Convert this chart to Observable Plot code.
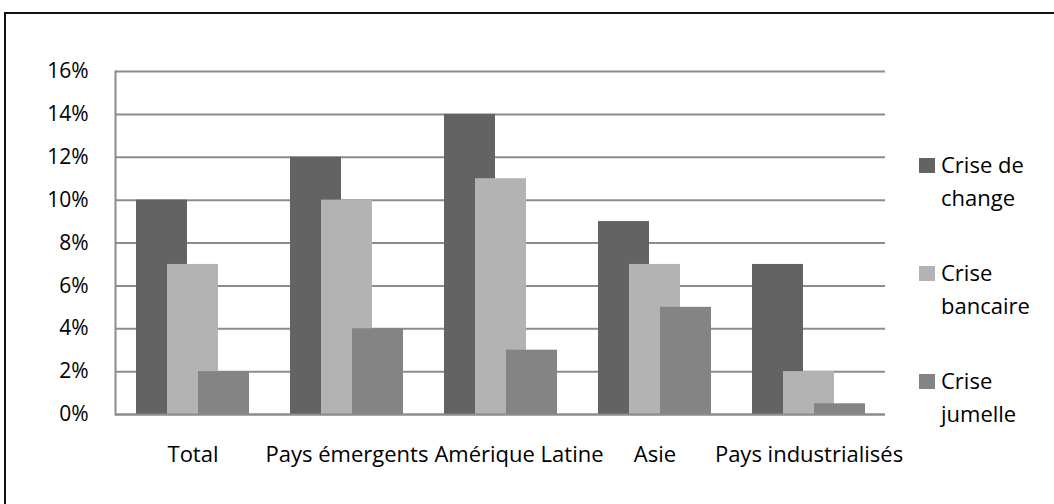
<!DOCTYPE html>
<html><head><meta charset="utf-8">
<script src="https://cdn.jsdelivr.net/npm/d3@7"></script>
<script src="https://cdn.jsdelivr.net/npm/@observablehq/plot@0.6"></script>
<style>
body{margin:0;background:#fff;font-family:"Open Sans",sans-serif;}
#frame{position:absolute;left:4px;top:12px;width:1120px;height:620px;border:2.5px solid #111;box-sizing:border-box;}
#chart{position:absolute;left:0;top:0;}
.leg{position:absolute;left:920px;font-size:22px;line-height:33px;color:#000;}
.sw{position:absolute;left:-1px;width:16px;height:15px;}
.lt{position:absolute;left:21px;white-space:nowrap;}
</style></head>
<body>
<div id="frame"></div>
<div id="chart"></div>
<div id="legend"></div>
<script>
const categories = ["Total", "Pays émergents", "Amérique Latine", "Asie", "Pays industrialisés"];
const seriesNames = ["Crise de change", "Crise bancaire", "Crise jumelle"];
const criseChange = [10, 12, 14, 9, 7];
const criseBancaire = [7, 10, 11, 7, 2];
const criseJumelle = [2, 4, 3, 5, 0.5];
const colors = ["#636363", "#b3b3b3", "#848484"];
const yTicks = [0, 2, 4, 6, 8, 10, 12, 14, 16];
const legendLines = [["Crise de", "change"], ["Crise", "bancaire"], ["Crise", "jumelle"]];

const series = [criseChange, criseBancaire, criseJumelle];
const offsets = [-31, 0, 31];
const marks = [
  Plot.gridY(yTicks, {stroke: "#8c8c8c", strokeOpacity: 1, strokeWidth: 2}),
  Plot.frame({anchor: "left", stroke: "#8c8c8c", strokeWidth: 2})
];
series.forEach((vals, i) => {
  const rows = categories.map((c, j) => ({cat: c, v: vals[j], s: seriesNames[i]}));
  marks.push(Plot.barY(rows, {x: "cat", y: "v", fill: colors[i], dx: offsets[i], inset: 0}));
});
marks.push(Plot.ruleY([0], {stroke: "#8c8c8c", strokeWidth: 2}));
marks.push(Plot.axisY(yTicks, {tickSize: 0, tickPadding: 27, tickFormat: d => d + "%", fontSize: 21, fill: "#000"}));
const shifted = ["Amérique Latine"];
marks.push(Plot.axisX(categories.filter(c => !shifted.includes(c)), {tickSize: 0, tickPadding: 32, fontSize: 22, fill: "#000"}));
marks.push(Plot.axisX(shifted, {tickSize: 0, tickPadding: 32, fontSize: 22, fill: "#000", dx: 18, label: null}));

const pi = 1 - 51 / 154;
const chart = Plot.plot({
  width: 1054, height: 504,
  marginLeft: 115, marginRight: 169, marginTop: 71, marginBottom: 90,
  style: {fontFamily: "'Open Sans', sans-serif", background: "transparent", overflow: "visible"},
  x: {domain: categories, paddingInner: pi, paddingOuter: pi / 2, align: 0.5, label: null},
  y: {domain: [0, 16], label: null},
  marks
});
document.getElementById("chart").appendChild(chart);

const leg = document.getElementById("legend");
const tops = [148, 256, 364];
legendLines.forEach((lines, i) => {
  const d = document.createElement("div");
  d.className = "leg";
  d.style.top = tops[i] + "px";
  d.innerHTML = `<div class="sw" style="top:10px;background:${colors[i]}"></div>` +
    `<div class="lt" style="top:0">${lines[0]}</div><div class="lt" style="top:33px">${lines[1]}</div>`;
  leg.appendChild(d);
});
</script>
</body></html>
